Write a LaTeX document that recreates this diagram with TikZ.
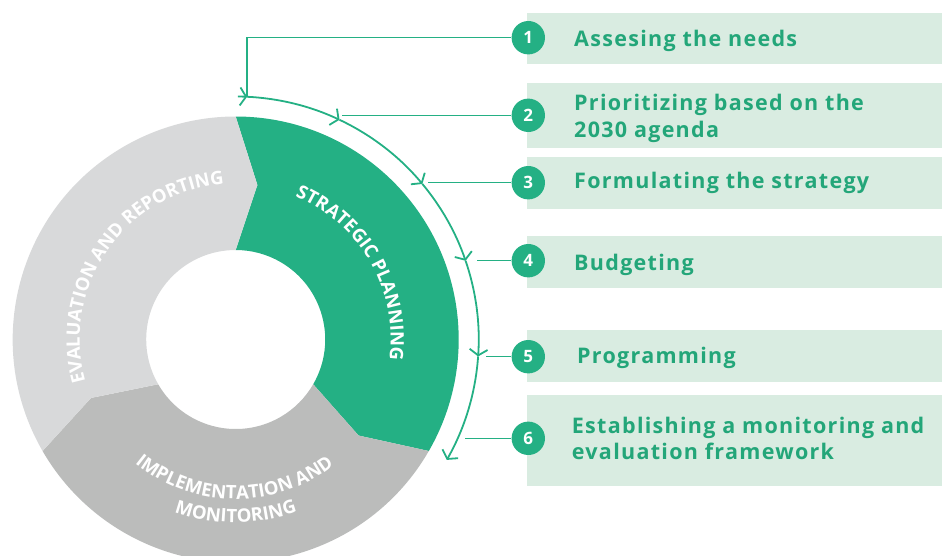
\documentclass[tikz,border=0pt]{standalone}
\usepackage{fontspec}
\setmainfont{Open Sans}
\newfontfamily\stepfont{Open Sans}[LetterSpace=6]
\usetikzlibrary{arrows.meta, decorations.text}
\definecolor{sdg}{RGB}{36,176,132}
\definecolor{txtg}{RGB}{35,166,121}
\definecolor{boxg}{RGB}{217,236,225}
\definecolor{evalg}{RGB}{216,217,218}
\definecolor{implg}{RGB}{187,188,187}
\tikzset{
  stepnum/.style={circle, fill=sdg, text=white, minimum size=33.4pt, inner sep=0pt, font=\fontsize{17}{17}\selectfont\bfseries},
  stepbox/.style={fill=boxg, minimum width=415.3pt, inner sep=0pt, anchor=north west},
  steptext/.style={text=txtg, font=\stepfont\fontsize{21.5}{26.7}\selectfont\bfseries, inner sep=0pt, align=left},
  link/.style={draw=sdg, line width=1.3pt},
  flow/.style={draw=sdg, line width=1.8pt, -{Straight Barb[length=6pt,width=18pt]}},
  ringtext/.style={decorate, decoration={text along path, text align=center, text color=white, text={#1}}}
}

\begin{document}
\begin{tikzpicture}[x=1pt,y=1pt]
\useasboundingbox (-235.7,-215.5) rectangle (706.3,339.5);

\fill[sdg] (90:223) arc (90:-30:223) -- (-38:156) -- (-30:89.5) arc (-30:90:89.5) -- (82:156) -- cycle;
\fill[implg] (-30:223) arc (-30:-150:223) -- (-158:156) -- (-150:89.5) arc (-150:-30:89.5) -- (-38:156) -- cycle;
\fill[evalg] (210:223) arc (210:90:223) -- (82:156) -- (90:89.5) arc (90:210:89.5) -- (202:156) -- cycle;
% 円環

\path[ringtext={|\fontsize{18.5}{18.5}\selectfont\bfseries|STRATEGIC PLANNING}] (80:155) arc (80:-20:155);
\path[ringtext={|\fontsize{18.5}{18.5}\selectfont\bfseries|EVALUATION AND REPORTING}] (210:156) arc (210:80:156);
\path[ringtext={|\fontsize{18.5}{18.5}\selectfont\bfseries|IMPLEMENTATION AND}] (-145:159.5) arc (-145:-36:159.5);
\path[ringtext={|\fontsize{18.5}{18.5}\selectfont\bfseries|MONITORING}] (-125:183) arc (-125:-55:183);

\foreach \a/\b in {89.5/87.3, 87.3/64.7, 64.7/39.8, 39.8/18.9, 18.9/-4, -4/-29.7}
  \draw[flow] (\a:243) arc (\a:\b:243);
% 矢印の弧

\node[stepbox, minimum height=51.6pt] (b1) at (291,326.8) {};
\node[stepbox, minimum height=65pt] (b2) at (291,256.8) {};
\node[stepbox, minimum height=52.3pt] (b3) at (291,182.8) {};
\node[stepbox, minimum height=52pt] (b4) at (291,103.8) {};
\node[stepbox, minimum height=51.7pt] (b5) at (291,9.5) {};
\node[stepbox, minimum height=90.7pt] (b6) at (291,-55.5) {};

\coordinate (m1) at (87.3:243);
\coordinate (e2) at (106.3,224.2);
\coordinate (e3) at (192.3,156.8);
\coordinate (e4) at (241,78.8);
\coordinate (e5) at (250.3,-17.2);
\coordinate (e6) at (229.3,-98.8);

\node[stepnum] (n1) at (292.6,301.8) {1};
\node[stepnum] (n2) at (292.6,224.2) {2};
\node[stepnum] (n3) at (292.6,156.8) {3};
\node[stepnum] (n4) at (292.6,78.8) {4};
\node[stepnum] (n5) at (292.6,-17.2) {5};
\node[stepnum] (n6) at (292.6,-98.8) {6};

\draw[link] (n1) -| (m1);
\draw[link] (n2) -- (e2);
\draw[link] (n3) -- (e3);
\draw[link] (n4) -- (e4);
\draw[link] (n5) -- (e5);
\draw[link] (n6) -- (e6);

\node[steptext, anchor=base west] (t1) at (338.3,292.8) {Assesing the needs};
\node[steptext, anchor=west] (t2) at (338.3,221.1) {Prioritizing based on the\\2030 agenda};
\node[steptext, anchor=base west] (t3) at (338.3,151.2) {Formulating the strategy};
\node[steptext, anchor=base west] (t4) at (338.3,69.5) {Budgeting};
\node[steptext, anchor=base west] (t5) at (341.3,-23.8) {Programming};
\node[steptext, anchor=west] (t6) at (336,-98.9) {Establishing a monitoring and\\evaluation framework};
\end{tikzpicture}
\end{document}
